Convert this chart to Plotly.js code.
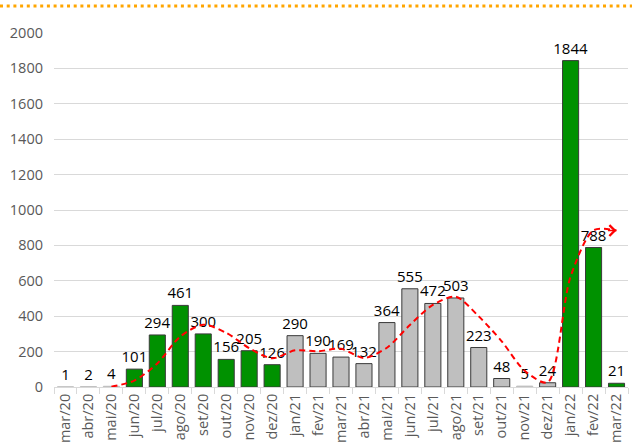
<!DOCTYPE html>
<html>
<head>
<meta charset="utf-8">
<script src="https://cdn.plot.ly/plotly-3.0.1.min.js"></script>
<style>html,body{margin:0;padding:0;background:#fff;}#chart{width:632px;height:444px;}</style>
</head>
<body>
<div id="chart"></div>
<script>
const months = ["mar/20","abr/20","mai/20","jun/20","jul/20","ago/20","set/20","out/20","nov/20","dez/20",
  "jan/21","fev/21","mar/21","abr/21","mai/21","jun/21","jul/21","ago/21","set/21","out/21","nov/21","dez/21",
  "jan/22","fev/22","mar/22"];
const cases = [1,2,4,101,294,461,300,156,205,126,290,190,169,132,364,555,472,503,223,48,5,24,1844,788,21];
const highlight = [0,0,0,1,1,1,1,1,1,1,0,0,0,0,0,0,0,0,0,0,0,0,1,1,1];
const trend = [null,null,2,36,133,285,352,306,220,162,207,202,216,164,222,350,464,510,399,258,92,26,624,885,884];

const GREEN = "#009100", GRAY = "#bfbfbf";
const barColors = highlight.map(h => h ? GREEN : GRAY);
const lineColors = cases.map((v,i) => v < 10 ? barColors[i] : "#3a3a3a");

const traces = [
  {
    type: "bar", x: months, y: cases,
    marker: {color: barColors, line: {color: lineColors, width: 1}},
    text: cases.map(String), textposition: "outside", constraintext: "none",
    textfont: {family: "Open Sans, sans-serif", size: 15, color: "#000"},
    cliponaxis: false, hoverinfo: "skip"
  },
  {
    type: "scatter", mode: "lines", x: months, y: trend,
    line: {color: "#ff0000", width: 2, dash: "6px,4px", shape: "spline", smoothing: 0.8},
    connectgaps: false, hoverinfo: "skip"
  }
];

const last = months.length - 1;
const layout = {
  width: 632, height: 444,
  margin: {l: 54, r: 4, t: 33, b: 57},
  paper_bgcolor: "#fff", plot_bgcolor: "#fff",
  showlegend: false,
  bargap: 0.3,
  font: {family: "Open Sans, sans-serif", size: 14.5, color: "#595959"},
  xaxis: {
    type: "category", range: [-0.5, 24.5], fixedrange: true,
    showline: true, linecolor: "#d9d9d9", linewidth: 1,
    ticks: "outside", tickson: "boundaries", ticklen: 6, tickcolor: "#d9d9d9",
    tickangle: -90, showgrid: false,
    tickfont: {family: "Open Sans, sans-serif", size: 14.5, color: "#595959"}
  },
  yaxis: {
    range: [0, 2000], dtick: 200, fixedrange: true,
    showgrid: true, gridcolor: "#d9d9d9", gridwidth: 1,
    zeroline: false, showline: false, ticks: "",
    ticklabelstandoff: 10,
    tickfont: {family: "Open Sans, sans-serif", size: 14.5, color: "#595959"}
  },
  shapes: [{
    type: "line", xref: "paper", yref: "paper",
    x0: -54/574, x1: 1 + 4/574, y0: 1 + 27/354, y1: 1 + 27/354,
    line: {color: "#ffa500", width: 3, dash: "3px,3.7px"}
  }],
  annotations: [{
    x: months[last], y: trend[last], xref: "x", yref: "y",
    ax: -10, ay: 0, showarrow: true, arrowhead: 4, arrowsize: 1.4, arrowwidth: 1.5,
    arrowcolor: "#ff0000", text: "", standoff: 0
  }]
};

Plotly.newPlot("chart", traces, layout, {displayModeBar: false, staticPlot: true});
</script>
</body>
</html>
